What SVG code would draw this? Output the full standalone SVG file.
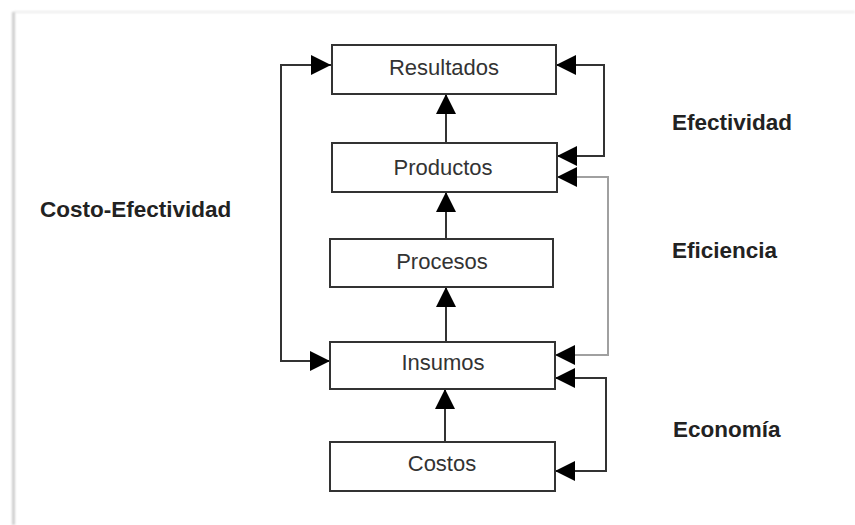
<svg xmlns="http://www.w3.org/2000/svg" width="855" height="525" viewBox="0 0 855 525">
  <defs>
    <marker id="arrow" viewBox="0 0 20 20" refX="20" refY="10" markerWidth="20" markerHeight="20" markerUnits="userSpaceOnUse" orient="auto-start-reverse">
      <path d="M0,0 L20,10 L0,20 z" fill="#000"/>
    </marker>
    <filter id="soft" x="-50%" y="-50%" width="200%" height="200%">
      <feGaussianBlur stdDeviation="0.8"/>
    </filter>
  </defs>
  <style>
    .box { fill: #fff; stroke: #333; stroke-width: 2; }
    .lbl { font-family: "Liberation Sans", Arial, sans-serif; font-size: 22px; fill: #333; text-anchor: middle; }
    .side { font-family: "Liberation Sans", Arial, sans-serif; font-size: 22.5px; font-weight: bold; fill: #222; }
    .link { fill: none; stroke: #333; stroke-width: 2; marker-end: url(#arrow); }
    .both { marker-start: url(#arrow); }
    .gray { stroke: #a0a0a0; }
  </style>

  <!-- page and frame edge -->
  <rect x="0" y="0" width="855" height="525" fill="#fff"/>
  <g filter="url(#soft)">
    <line x1="14" y1="12" x2="855" y2="12" stroke="#e6e6e6" stroke-width="1.5"/>
    <line x1="13.5" y1="12" x2="13.5" y2="525" stroke="#c4c4c4" stroke-width="2.5"/>
  </g>

  <!-- connectors -->
  <g id="connectors">
    <path class="link" d="M446,143 V94"/>
    <path class="link" d="M446,239 V192"/>
    <path class="link" d="M446,342 V287"/>
    <path class="link" d="M445,442 V389"/>
    <path class="link both" d="M331,65 H281 V361 H330"/>
    <path class="link both" d="M556,65 H604 V156 H557"/>
    <path class="link both gray" d="M557,177 H608 V355 H555"/>
    <path class="link both" d="M555,378 H606 V471 H555"/>
  </g>

  <!-- nodes -->
  <g id="resultados">
    <rect class="box" x="332" y="45" width="224" height="49"/>
    <text class="lbl" x="444" y="75">Resultados</text>
  </g>
  <g id="productos">
    <rect class="box" x="332" y="143" width="225" height="49"/>
    <text class="lbl" x="443" y="175">Productos</text>
  </g>
  <g id="procesos">
    <rect class="box" x="330" y="239" width="223" height="48"/>
    <text class="lbl" x="442" y="269">Procesos</text>
  </g>
  <g id="insumos">
    <rect class="box" x="330" y="342" width="225" height="47"/>
    <text class="lbl" x="443" y="370">Insumos</text>
  </g>
  <g id="costos">
    <rect class="box" x="330" y="442" width="225" height="49"/>
    <text class="lbl" x="442" y="471">Costos</text>
  </g>

  <!-- side labels -->
  <text class="side" x="40" y="217">Costo-Efectividad</text>
  <text class="side" x="672" y="130">Efectividad</text>
  <text class="side" x="672" y="258">Eficiencia</text>
  <text class="side" x="673" y="437">Economía</text>
</svg>
